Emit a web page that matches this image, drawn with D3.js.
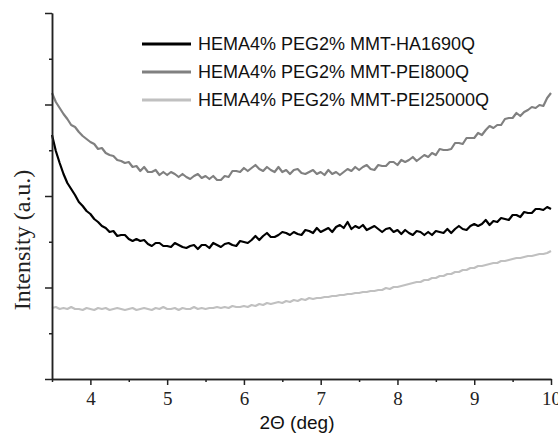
<!DOCTYPE html>
<html>
<head>
<meta charset="utf-8">
<script src="https://cdn.jsdelivr.net/npm/d3@7"></script>
<style>
  body { margin: 0; background: #fff; }
  svg { display: block; }
</style>
</head>
<body>
<div id="chart"></div>
<script>
// 2-theta sampling: 3.50 .. 10.00 every 0.05 deg
var thetaStart = 3.5, thetaStep = 0.05;

// intensities (a.u.)
var ha1690 = [
  244, 228, 216, 205, 196, 190, 184, 177, 173, 168, 165, 160, 157, 153,
  151, 147, 148, 143, 144, 144, 140, 138, 140, 138, 139, 135, 133, 136, 136, 133, 133, 132, 136, 134, 132, 131, 133, 134,
  130, 134, 134, 131, 136, 134, 132, 135, 136, 134,
  133, 138, 137, 136, 139, 143, 139, 143, 146, 142,
  142, 144, 147, 146, 144, 147, 145, 144, 149, 148,
  146, 151, 147, 149, 151, 147, 152, 154, 151, 157,
  150, 153, 151, 154, 149, 151, 153, 150, 147, 150,
  151, 147, 149, 145, 149, 146, 144, 148, 147, 144,
  147, 144, 148, 147, 146, 150, 146, 150, 153, 150,
  149, 153, 155, 153, 155, 159, 154, 158, 157, 161,
  160, 159, 164, 164, 162, 167, 166, 166, 170, 170,
  169, 172, 170
];

var pei800 = [
  286, 277, 271, 265, 260, 254, 252, 247, 243, 240, 237, 235, 230, 231, 226, 224, 223, 219, 218, 216,
  217, 212, 213, 208, 212, 207, 207, 209, 204, 207,
  204, 207, 205, 202, 205, 202, 200, 203, 205, 201,
  203, 200, 203, 199, 199, 203, 202, 208, 208, 207,
  211, 208, 211, 214, 210, 208, 212, 209, 207, 212,
  207, 209, 205, 209, 210, 206, 205, 207, 209, 205,
  207, 204, 209, 205, 207, 204, 207, 210, 208, 212,
  209, 212, 214, 210, 209, 214, 213, 213, 217, 217,
  214, 219, 217, 219, 222, 218, 221, 224, 222, 226,
  224, 230, 229, 229, 230, 236, 236, 235, 241, 241,
  241, 246, 244, 249, 253, 251, 254, 254, 260, 261,
  261, 266, 263, 267, 269, 272, 271, 274, 273, 281,
  286
];

var pei25000 = [
  71, 72, 70, 71, 70, 72, 70, 70, 69, 71, 70, 69, 71, 70, 71, 69, 70, 71, 70, 69,
  70, 71, 69, 70, 71, 70, 69, 71, 70, 72, 70, 70, 71, 69, 71, 70, 70, 72, 70, 71,
  70, 71, 71, 72, 71, 72, 71, 73, 72, 72, 73, 72, 74, 73, 75, 74, 76, 75, 76, 77,
  76, 78, 77, 79, 78, 80, 79, 81, 80, 81, 81, 82, 82, 83, 83, 84, 84, 85, 85, 86,
  86, 87, 87, 88, 88, 89, 89, 91, 90, 92, 92, 93, 94, 95, 96, 97, 97, 99, 99, 101,
  101, 103, 103, 105, 105, 107, 107, 109, 109, 111, 111, 113, 113, 114, 115, 116, 116, 118, 118, 119,
  120, 121, 121, 122, 123, 123, 124, 125, 125, 126, 128
];

var seriesNames = ["HEMA4% PEG2% MMT-HA1690Q", "HEMA4% PEG2% MMT-PEI800Q", "HEMA4% PEG2% MMT-PEI25000Q"];
var seriesColors = ["#000000", "#808080", "#c0c0c0"];
var xMajorTicks = [4, 5, 6, 7, 8, 9, 10];
var xMinorTicks = [3.5, 4.5, 5.5, 6.5, 7.5, 8.5, 9.5];
var yMajorTicks = [0, 91.5, 183, 274.5, 366];
var yMinorTicks = [45.75, 137.25, 228.75, 320.25];

var margin = { top: 13, right: 7, bottom: 62, left: 52 };
var width = 558 - margin.left - margin.right,
    height = 441 - margin.top - margin.bottom;

var svg = d3.select("#chart")
    .append("svg")
    .attr("width", 558)
    .attr("height", 441)
    .append("g")
    .attr("transform", "translate(" + margin.left + "," + margin.top + ")");

var x = d3.scaleLinear().domain([3.5, 10]).range([0, width]);
var y = d3.scaleLinear().domain([0, 366]).range([height, 0]);

var allSeries = [ha1690, pei800, pei25000];

var line = d3.line()
    .x(function (d, i) { return x(thetaStart + i * thetaStep); })
    .y(function (d) { return y(d); });

// draw light first so black sits on top
[2, 1, 0].forEach(function (k) {
    svg.append("path")
        .datum(allSeries[k])
        .attr("fill", "none")
        .attr("stroke", seriesColors[k])
        .attr("stroke-width", 2.2)
        .attr("stroke-linejoin", "round")
        .attr("d", line);
});

// x axis
var axisColor = "#222";
var gx = svg.append("g").attr("transform", "translate(0," + height + ")");
gx.call(d3.axisBottom(x).tickValues(xMajorTicks).tickSize(6).tickSizeOuter(0).tickFormat(d3.format("d")));
gx.append("g").call(d3.axisBottom(x).tickValues(xMinorTicks).tickSize(3).tickSizeOuter(0).tickFormat(""));
gx.selectAll(".domain").attr("stroke", axisColor).attr("stroke-width", 1.5);
gx.selectAll(".tick line").attr("stroke", axisColor).attr("stroke-width", 1.5);
gx.selectAll(".tick text")
    .attr("y", 13)
    .attr("fill", "#222")
    .style("font-family", "'Liberation Serif', 'Times New Roman', serif")
    .style("font-size", "19px");

// y axis, no labels
var gy = svg.append("g");
gy.call(d3.axisLeft(y).tickValues(yMajorTicks).tickSize(7).tickSizeOuter(0).tickFormat(""));
gy.append("g").call(d3.axisLeft(y).tickValues(yMinorTicks).tickSize(3).tickSizeOuter(0).tickFormat(""));
gy.selectAll(".domain").attr("stroke", axisColor).attr("stroke-width", 1.5);
gy.selectAll(".tick line").attr("stroke", axisColor).attr("stroke-width", 1.5);

// axis titles
svg.append("text")
    .attr("x", 245)
    .attr("y", 416)
    .attr("text-anchor", "middle")
    .attr("fill", "#111")
    .style("font-family", "'Liberation Sans', Arial, sans-serif")
    .style("font-size", "19px")
    .text("2\u0398 (deg)");

svg.append("text")
    .attr("transform", "translate(-30," + 227 + ") rotate(-90)")
    .attr("text-anchor", "middle")
    .attr("dy", "0.35em")
    .attr("fill", "#222")
    .style("font-family", "'Liberation Serif', 'Times New Roman', serif")
    .style("font-size", "24px")
    .text("Intensity (a.u.)");

// legend
var legend = svg.append("g").attr("transform", "translate(90,31)");
seriesNames.forEach(function (name, i) {
    var row = legend.append("g").attr("transform", "translate(0," + i * 28 + ")");
    row.append("line")
        .attr("x1", 0).attr("x2", 49)
        .attr("stroke", seriesColors[i])
        .attr("stroke-width", 3);
    row.append("text")
        .attr("x", 56)
        .attr("dy", "0.35em")
        .attr("fill", "#111")
        .style("font-family", "'Liberation Sans', Arial, sans-serif")
        .style("font-size", "18px")
        .text(name);
});
</script>
</body>
</html>
